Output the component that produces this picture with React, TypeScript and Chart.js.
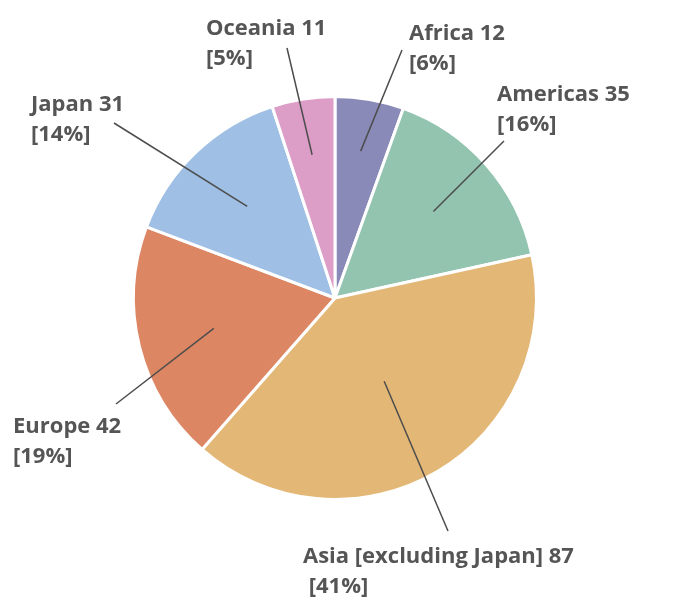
import { useEffect, useRef } from "react";
import { Chart, registerables } from "chart.js";

Chart.register(...registerables);

// ---- data ----
const categories = ["Africa", "Americas", "Asia [excluding Japan]", "Europe", "Japan", "Oceania"];
const values = [12, 35, 87, 42, 31, 11];
const percentLabels = ["[6%]", "[16%]", " [41%]", "[19%]", "[14%]", "[5%]"];

// ---- styles / layout ----
const sliceColors = ["#8A8AB8", "#92C4AF", "#E3B776", "#DD8663", "#9FBFE4", "#DC9DC6"];
const labelX = [409, 497, 303, 13, 31, 206];
const labelBaseline = [40, 101, 563, 433, 111, 35];
const lineGap = 30;
const leaderOuter = [
  [402, 50],
  [504, 141],
  [448, 531],
  [116, 404],
  [114, 123],
  [287, 48],
];
const leaderInnerFrac = [0.74, 0.65, 0.48, 0.62, 0.63, 0.72];
const FONT = "bold 22px 'Open Sans', 'Noto Sans', sans-serif";
const TEXT_COLOR = "#555555";
const LINE_COLOR = "#4d4d4d";

const labelPlugin = {
  id: "leaderLabels",
  afterDatasetsDraw(chart: any) {
    const ctx = chart.ctx as CanvasRenderingContext2D;
    const meta = chart.getDatasetMeta(0);
    ctx.save();
    meta.data.forEach((arc: any, i: number) => {
      const { x, y, startAngle, endAngle, outerRadius } = arc.getProps(
        ["x", "y", "startAngle", "endAngle", "outerRadius"],
        true
      );
      const mid = (startAngle + endAngle) / 2;
      const r = outerRadius * leaderInnerFrac[i];
      const ix = x + Math.cos(mid) * r;
      const iy = y + Math.sin(mid) * r;
      ctx.beginPath();
      ctx.strokeStyle = LINE_COLOR;
      ctx.lineWidth = 1.5;
      ctx.moveTo(leaderOuter[i][0], leaderOuter[i][1]);
      ctx.lineTo(ix, iy);
      ctx.stroke();

      ctx.font = FONT;
      ctx.fillStyle = TEXT_COLOR;
      ctx.textAlign = "left";
      ctx.textBaseline = "alphabetic";
      ctx.fillText(`${categories[i]} ${values[i]}`, labelX[i], labelBaseline[i]);
      ctx.fillText(percentLabels[i], labelX[i], labelBaseline[i] + lineGap);
    });
    ctx.restore();
  },
};

export default function App() {
  const ref = useRef<HTMLCanvasElement | null>(null);
  useEffect(() => {
    document.body.style.margin = "0";
    const chart = new Chart(ref.current!, {
      type: "pie",
      data: {
        labels: categories,
        datasets: [
          {
            data: values,
            backgroundColor: sliceColors,
            borderColor: "#ffffff",
            borderWidth: 3,
          },
        ],
      },
      options: {
        responsive: false,
        animation: false,
        layout: { padding: { left: 128, right: 132, top: 95, bottom: 113 } },
        plugins: {
          legend: { display: false },
          tooltip: { enabled: false },
        },
      },
      plugins: [labelPlugin],
    });
    return () => chart.destroy();
  }, []);
  return (
    <div style={{ width: 674, height: 614 }}>
      <canvas ref={ref} width={674} height={614} style={{ width: 674, height: 614 }} />
    </div>
  );
}
